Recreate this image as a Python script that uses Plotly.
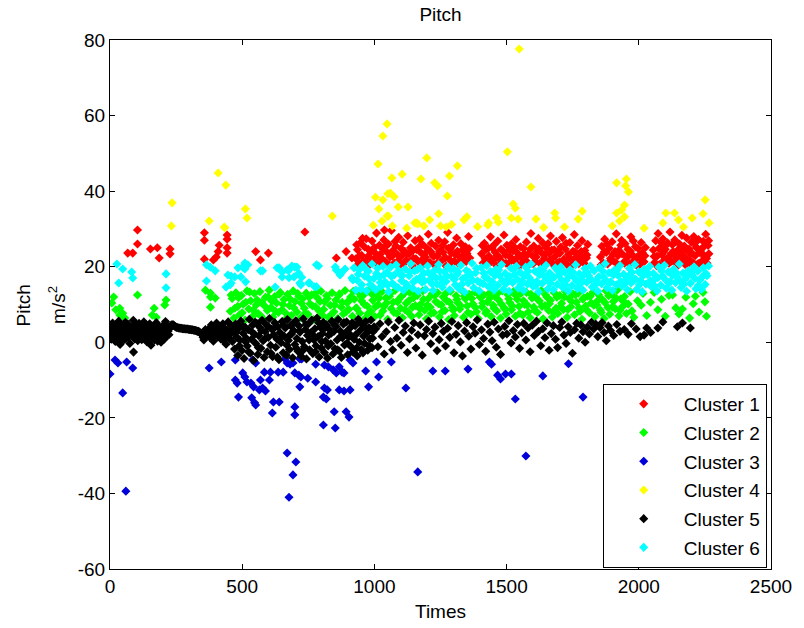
import plotly.graph_objects as go

# ---------------- data ----------------
cluster_names = ["Cluster 1", "Cluster 2", "Cluster 3", "Cluster 4", "Cluster 5", "Cluster 6"]
cluster_colors = ["#FF0000", "#00FF00", "#0000D8", "#FFFF00", "#000000", "#00FFFF"]

x_ticks = [0, 500, 1000, 1500, 2000, 2500]
y_ticks = [-60, -40, -20, 0, 20, 40, 60, 80]
y_tick_labels = ["-60", "-40", "-20", "0", "20", "40", "60", "80"]

cluster1_points = [
    (67, 23.6), (86, 23.6), (104, 29.7), (104, 26.0), (153, 24.7), (179, 25.0), (186, 22.3), (227, 24.7), (227, 23.4),
    (357, 29.0), (357, 27.0), (357, 22.0), (391, 21.8), (402, 22.6), (409, 24.0), (413, 25.7), (443, 28.4), (443, 27.3),
    (443, 25.0), (443, 23.6), (551, 24.0), (569, 21.8), (599, 23.6), (737, 29.2), (856, 22.3), (893, 24.0), (915, 22.3),
    (930, 22.1), (936, 24.5), (941, 20.8), (947, 26.3), (952, 23.0), (958, 21.5), (963, 25.2), (969, 27.4), (975, 22.7),
    (980, 20.4), (986, 24.0), (991, 26.8), (997, 21.9), (1003, 23.6), (1008, 28.9), (1014, 22.4), (1019, 25.7), (1025, 20.9),
    (1031, 24.8), (1036, 27.1), (1038, 29.7), (1042, 21.3), (1047, 23.9), (1053, 26.0), (1059, 22.6), (1064, 29.6), (1070, 24.3),
    (1075, 21.0), (1081, 25.5), (1087, 23.2), (1092, 27.8), (1098, 20.6), (1103, 22.9), (1109, 26.5), (1115, 24.1), (1120, 21.7),
    (1126, 28.2), (1131, 23.4), (1137, 25.0), (1143, 20.3), (1148, 22.2), (1154, 26.9), (1159, 24.6), (1165, 21.4), (1171, 27.3),
    (1176, 23.7), (1182, 25.9), (1187, 20.7), (1193, 22.5), (1199, 24.9), (1204, 28.6), (1210, 21.2), (1215, 26.2), (1221, 23.1),
    (1227, 20.5), (1232, 25.4), (1238, 22.8), (1243, 27.0), (1249, 24.2), (1255, 21.6), (1260, 23.8), (1266, 26.6), (1271, 20.2),
    (1277, 29.1), (1283, 22.0), (1288, 24.7), (1294, 21.1), (1299, 25.8), (1305, 23.3), (1311, 27.6), (1316, 20.9), (1322, 22.6),
    (1327, 26.1), (1333, 24.4), (1339, 21.8), (1344, 25.3), (1350, 23.5), (1356, 28.0), (1361, 22.3),
    (933, 25.8), (944, 22.9), (955, 27.5), (966, 21.2), (977, 24.6), (989, 22.0), (1000, 25.1), (1011, 20.6), (1022, 23.3),
    (1033, 21.8), (1045, 25.6), (1056, 20.5), (1067, 22.8), (1078, 26.7), (1090, 21.6), (1101, 24.8), (1112, 20.9), (1123, 23.5),
    (1134, 21.3), (1146, 24.3), (1157, 22.1), (1168, 25.2), (1179, 21.7), (1190, 23.4), (1202, 21.1), (1213, 24.0), (1224, 22.7),
    (1235, 20.8), (1246, 23.9), (1258, 25.6), (1269, 22.4), (1280, 24.9), (1291, 23.6), (1302, 21.5), (1314, 24.1), (1325, 20.7),
    (1336, 23.0), (1347, 21.4), (1358, 24.8),
    (1405, 23.4), (1411, 21.0), (1416, 26.2), (1422, 24.5), (1428, 20.6), (1433, 22.8), (1439, 27.9), (1445, 25.1), (1450, 21.7),
    (1456, 23.9), (1462, 20.3), (1467, 26.8), (1473, 22.4), (1479, 24.6), (1484, 21.2), (1490, 28.4), (1496, 23.1), (1501, 25.7),
    (1507, 20.8), (1513, 22.6), (1518, 26.0), (1524, 24.2), (1530, 21.5), (1535, 27.2), (1541, 23.6), (1547, 20.4), (1552, 25.3),
    (1558, 22.1), (1564, 24.8), (1569, 21.9), (1575, 26.5), (1581, 23.3), (1586, 20.7), (1592, 28.8), (1598, 22.9), (1603, 25.5),
    (1609, 21.4), (1615, 24.0), (1620, 27.5), (1626, 20.9), (1632, 23.7), (1637, 26.3), (1643, 22.2), (1649, 25.0), (1654, 21.1),
    (1660, 23.5), (1666, 28.1), (1671, 24.4), (1677, 20.5), (1683, 22.7), (1688, 26.7), (1694, 23.8), (1700, 21.3), (1705, 25.2),
    (1711, 27.7), (1717, 22.0), (1722, 24.7), (1728, 20.6), (1734, 23.2), (1739, 26.4), (1745, 21.8), (1751, 24.1), (1756, 28.5),
    (1762, 22.5), (1768, 25.6), (1773, 20.8), (1779, 23.0), (1785, 26.9), (1790, 21.6), (1796, 24.3), (1802, 22.3), (1807, 25.9),
    (1408, 25.6), (1419, 22.1), (1431, 24.9), (1442, 21.3), (1453, 25.8), (1464, 23.0), (1476, 21.8), (1487, 24.1), (1498, 20.9),
    (1510, 24.4), (1521, 22.0), (1532, 25.0), (1544, 22.7), (1555, 20.6), (1566, 23.4), (1578, 21.1), (1589, 24.6), (1600, 20.8),
    (1612, 22.6), (1623, 24.8), (1634, 21.2), (1646, 23.3), (1657, 26.1), (1668, 21.9), (1680, 24.5), (1691, 21.0), (1702, 23.6),
    (1714, 20.7), (1725, 26.2), (1736, 22.4), (1748, 20.5), (1759, 23.9), (1770, 22.2), (1782, 24.0), (1793, 20.9), (1804, 23.1),
    (1855, 22.6), (1860, 25.4), (1866, 21.0), (1871, 27.3), (1877, 23.8), (1882, 20.7), (1888, 24.9), (1893, 22.2), (1899, 26.6),
    (1904, 21.5), (1910, 24.0), (1915, 28.7), (1921, 22.9), (1926, 20.4), (1932, 25.7), (1937, 23.4), (1943, 21.2), (1948, 26.1),
    (1954, 22.7), (1959, 24.6), (1965, 20.8), (1970, 27.9), (1976, 23.1), (1981, 21.6), (1987, 25.3), (1992, 22.4), (1998, 24.8),
    (2003, 20.6), (2009, 26.4), (2014, 23.6), (2020, 21.3), (2025, 25.1),
    (1858, 20.5), (1869, 23.9), (1880, 26.0), (1891, 21.4), (1902, 23.2), (1913, 21.1), (1924, 24.3), (1935, 27.0), (1946, 20.9),
    (1957, 22.5), (1968, 24.1), (1979, 26.8), (1990, 20.5), (2001, 23.0), (2012, 21.8), (2023, 22.9),
    (2055, 24.4), (2060, 21.1), (2064, 26.9), (2069, 22.8), (2073, 28.8), (2078, 20.6), (2082, 25.0), (2087, 23.2), (2091, 27.4),
    (2096, 21.7), (2100, 24.6), (2105, 22.1), (2109, 26.3), (2114, 20.9), (2118, 29.2), (2123, 23.5), (2127, 25.8), (2132, 21.4),
    (2136, 27.1), (2141, 22.6), (2145, 24.2), (2150, 20.5), (2154, 26.0), (2159, 23.0), (2163, 28.3), (2168, 21.8), (2172, 25.5),
    (2177, 22.3), (2181, 27.6), (2186, 20.8), (2190, 24.7), (2195, 23.3), (2199, 26.5), (2204, 21.2), (2208, 28.0), (2213, 22.9),
    (2217, 25.2), (2222, 20.7), (2226, 27.2), (2231, 23.7), (2235, 24.5), (2240, 21.5), (2244, 26.7), (2249, 22.5), (2253, 28.6),
    (2258, 20.9), (2262, 25.6), (2265, 23.4),
    (2058, 22.7), (2067, 20.3), (2076, 24.8), (2085, 26.4), (2094, 23.9), (2103, 25.7), (2112, 22.4), (2121, 21.3), (2130, 24.0),
    (2139, 26.6), (2148, 21.9), (2157, 25.1), (2166, 23.8), (2175, 20.6), (2184, 24.3), (2193, 21.6), (2202, 23.5), (2211, 26.2),
    (2220, 24.9), (2229, 21.0), (2238, 23.6), (2247, 25.4), (2256, 22.2), (2264, 26.9),
]

cluster2_points = [
    (7, 10.4), (14, 12.0), (22, 8.6), (37, 9.0), (37, 7.2), (48, 7.7), (56, 6.4), (104, 12.5), (160, 7.2), (167, 9.0),
    (175, 6.6), (212, 11.2), (207, 9.9), (361, 13.8), (380, 13.0), (380, 12.0), (398, 11.7), (380, 9.3),
    (455, 8.2), (462, 11.6), (469, 6.4), (476, 13.1), (483, 9.5), (490, 7.3), (497, 12.4), (504, 10.1), (511, 5.9), (518, 13.6),
    (525, 8.8), (532, 11.0), (539, 6.8), (546, 12.9), (553, 9.9), (560, 7.6), (567, 13.4), (574, 10.6), (581, 6.1), (588, 11.9),
    (595, 8.4), (602, 13.8), (609, 9.2), (616, 6.7), (623, 12.1), (630, 10.4), (637, 7.9), (644, 13.2), (651, 8.6), (658, 11.3),
    (665, 6.2), (672, 12.7), (679, 9.7), (686, 7.1), (693, 13.6), (700, 10.8), (707, 8.0), (714, 12.2), (721, 6.5), (728, 11.5),
    (735, 9.0), (742, 13.0), (749, 7.4), (756, 10.2), (763, 12.6), (770, 6.0), (777, 9.4), (784, 11.8), (791, 8.3), (798, 13.5),
    (805, 7.0), (812, 10.7), (819, 12.3), (826, 6.6), (833, 9.8), (840, 13.1), (847, 8.1), (854, 11.2), (861, 6.3), (868, 12.8),
    (875, 9.3), (882, 7.5), (889, 13.7), (896, 10.5), (903, 8.7), (910, 12.0), (917, 6.9), (924, 11.4), (931, 9.1), (938, 13.3),
    (945, 7.7), (952, 10.9), (959, 12.5), (966, 6.4), (973, 9.6), (980, 13.9), (987, 8.2), (994, 11.1), (1001, 6.8), (1008, 12.6),
    (1015, 10.0), (1022, 7.2), (1029, 13.4), (1036, 9.5), (1043, 11.7), (1050, 6.1), (1057, 12.2), (1064, 8.9), (1071, 10.6),
    (1078, 13.7), (1085, 7.6), (1092, 11.3), (1099, 9.0), (1106, 6.5), (1113, 12.9), (1120, 10.3), (1127, 8.0), (1134, 13.2),
    (1141, 6.9), (1148, 11.8), (1155, 9.7), (1162, 12.4), (1169, 7.3), (1176, 10.1), (1183, 13.6), (1190, 8.5), (1197, 6.2),
    (1204, 11.6), (1211, 9.3), (1218, 12.8), (1225, 7.8), (1232, 10.8), (1239, 13.1), (1246, 6.7), (1253, 9.9), (1260, 12.0),
    (1267, 8.4), (1274, 11.0), (1281, 6.0), (1288, 13.5), (1295, 9.2), (1302, 7.1), (1309, 12.3), (1316, 10.4), (1323, 8.8),
    (1330, 13.8), (1337, 6.6), (1344, 11.5), (1351, 9.6), (1358, 12.7), (1365, 7.4), (1372, 10.2), (1379, 13.3), (1386, 8.1),
    (1393, 6.3), (1400, 11.9), (1407, 9.4), (1414, 12.5), (1421, 7.7), (1428, 10.7), (1435, 13.0), (1442, 6.8), (1449, 9.8),
    (1456, 12.1), (1463, 8.3), (1470, 11.2), (1477, 6.4), (1484, 13.6), (1491, 9.1), (1498, 7.5), (1505, 12.6), (1512, 10.5),
    (1519, 8.6), (1526, 13.4), (1533, 6.9), (1540, 11.4), (1547, 9.5), (1554, 12.9), (1561, 7.2), (1568, 10.0), (1575, 13.2),
    (1582, 8.0), (1589, 6.5), (1596, 11.7), (1603, 9.3), (1610, 12.3), (1617, 7.9), (1624, 10.9), (1631, 13.7), (1638, 6.2),
    (1645, 9.7), (1652, 12.0), (1659, 8.4), (1666, 11.1), (1673, 6.7), (1680, 13.1), (1687, 9.0), (1694, 7.6), (1701, 12.4),
    (1708, 10.3), (1715, 8.7), (1722, 13.5), (1729, 6.6), (1736, 11.6), (1743, 9.4), (1750, 12.8), (1757, 7.3), (1764, 10.6),
    (1771, 13.0), (1778, 8.2), (1785, 6.1), (1792, 11.8), (1799, 9.6), (1806, 12.2), (1813, 7.8), (1820, 10.4), (1827, 13.3),
    (1834, 6.8), (1841, 9.9), (1848, 12.6), (1855, 8.5), (1862, 11.3), (1869, 6.3), (1876, 13.6), (1883, 9.2), (1890, 7.4),
    (1897, 12.7), (1904, 10.8), (1911, 8.9), (1918, 13.8), (1925, 7.0), (1932, 11.5), (1939, 9.5), (1946, 12.1), (1953, 7.6),
    (1960, 10.1), (1967, 13.4), (1974, 8.3), (1981, 6.6), (1995, 11.0), (2009, 9.8), (2016, 12.9), (2030, 7.1), (2044, 10.6),
    (2058, 13.2), (2072, 8.6), (2086, 11.4), (2100, 6.9), (2114, 12.4), (2128, 12.5), (2140, 9.1), (2152, 7.5), (2165, 8.8),
    (2178, 11.9), (2192, 6.4), (2206, 10.2), (2214, 12.2), (2228, 8.0), (2243, 13.2), (2250, 10.7), (2256, 6.9),
    (458, 12.5), (472, 9.0), (486, 11.8), (500, 7.8), (514, 10.6), (528, 13.3), (542, 8.5), (556, 11.2), (570, 7.0), (584, 9.7),
    (598, 12.0), (612, 10.9), (626, 8.2), (640, 12.7), (654, 10.0), (668, 7.5), (682, 11.4), (696, 9.1), (710, 12.9), (724, 10.3),
    (738, 7.7), (752, 11.9), (766, 9.6), (780, 13.2), (794, 10.8), (808, 8.7), (822, 11.6), (836, 7.3), (850, 9.9), (864, 12.4),
    (878, 10.6), (892, 8.0), (906, 11.1), (920, 13.5), (934, 8.9), (948, 12.2), (962, 10.0), (976, 7.6), (990, 12.8), (1004, 9.4),
    (1018, 11.7), (1032, 8.3), (1046, 10.4), (1060, 12.9), (1074, 7.9), (1088, 10.7), (1102, 12.1), (1116, 8.6), (1130, 11.0),
    (1144, 9.3), (1158, 12.7), (1172, 8.9), (1186, 11.4), (1200, 9.8), (1214, 7.6), (1228, 12.4), (1242, 10.2), (1256, 8.1),
    (1270, 12.9), (1284, 10.6), (1298, 8.5), (1312, 11.3), (1326, 9.7), (1340, 12.2), (1354, 7.9), (1368, 11.6), (1382, 9.2),
    (1396, 12.6), (1410, 10.4), (1424, 8.2), (1438, 11.8), (1452, 9.0), (1466, 12.9), (1480, 10.1), (1494, 8.8), (1508, 11.5),
    (1522, 9.6), (1536, 12.3), (1550, 7.7), (1564, 11.0), (1578, 9.9), (1592, 12.7), (1606, 8.4), (1620, 11.2), (1634, 9.5),
    (1648, 12.5), (1662, 10.2), (1676, 8.0), (1690, 11.9), (1704, 9.4), (1718, 12.0), (1732, 8.7), (1746, 10.8), (1760, 12.6),
    (1774, 9.1), (1788, 11.4), (1802, 8.6), (1816, 12.1), (1830, 9.8), (1844, 11.0), (1858, 7.9), (1872, 10.5), (1886, 12.3),
    (1900, 9.3), (1914, 11.7), (1928, 8.4), (1942, 10.9),
]

cluster3_points = [
    (0, -8.4), (19, -4.7), (30, -5.5), (48, -13.4), (63, -5.2), (86, -6.8), (60, -39.4), (375, -6.8), (421, -5.2), (474, -4.7),
    (474, -10.0), (481, -10.8), (502, -8.1), (510, -9.2), (518, -10.5), (486, -14.5), (533, -10.8), (543, -11.8), (536, -14.7),
    (547, -16.0), (551, -16.6), (569, -10.0), (577, -12.1), (565, -12.6), (539, -4.7), (551, -5.5), (584, -7.9), (603, -10.0),
    (607, -7.9), (636, -7.9), (655, -7.9), (618, -15.8), (640, -15.8), (614, -18.7), (588, -12.9), (662, -4.4), (670, -5.5),
    (681, -5.8), (692, -5.5), (718, -4.4), (725, -4.4), (699, -8.1), (714, -8.7), (722, -9.2), (718, -11.8), (699, -17.1),
    (699, -19.2), (748, -9.5), (778, -5.8), (778, -10.5), (811, -6.0), (826, -6.5), (811, -12.1), (822, -12.6), (807, -14.5),
    (818, -15.0), (844, -7.3), (856, -8.1), (867, -6.5), (878, -7.9), (885, -8.1), (848, -18.4), (867, -12.6), (885, -12.9),
    (908, -12.6), (893, -18.4), (904, -19.8), (908, -4.7), (919, -5.5), (807, -21.9), (852, -22.7), (967, -7.6), (978, -11.8),
    (1008, -5.2), (1016, -9.2), (670, -29.3), (703, -31.7), (692, -35.1), (677, -41.0), (1064, -5.2),
    (1119, -12.1), (1164, -34.3), (1221, -7.6), (1268, -7.6), (1354, -7.1), (1435, -5.2), (1443, -5.8), (1466, -8.7),
    (1477, -9.7), (1496, -8.4), (1518, -8.4), (1533, -15.0), (1573, -30.1), (1637, -8.9), (1734, -5.7), (1789, -14.5),
]

cluster4_points = [
    (235, 36.9), (232, 30.8), (375, 32.1), (409, 44.8), (438, 41.6), (434, 30.3), (432, 30.5), (512, 35.3), (518, 32.9),
    (841, 33.4), (1014, 47.2), (1032, 54.6), (1048, 57.8), (1066, 43.5), (1004, 38.4), (1017, 35.3), (1032, 37.7), (1051, 39.3),
    (996, 31.0), (1029, 32.1), (1048, 33.4), (1198, 48.8), (1314, 46.7), (1105, 44.5), (1176, 43.2), (1284, 44.0), (1228, 42.2),
    (1239, 41.4), (1276, 38.7), (1060, 39.5), (1075, 38.5), (1090, 35.8), (1127, 35.8), (1053, 33.4), (1243, 34.0), (1068, 30.8),
    (1161, 31.6), (1187, 30.8), (1209, 32.4), (1350, 33.2), (1339, 32.4), (1250, 30.8), (1272, 30.5), (1429, 31.0),
    (1548, 77.6), (1503, 50.4), (1592, 41.1), (1525, 36.6), (1533, 35.5), (1916, 42.2), (1953, 43.2), (1950, 41.4), (1961, 39.8),
    (1946, 36.3), (1935, 35.0), (1916, 34.2), (1946, 33.2), (1927, 32.1), (2251, 37.7), (2102, 34.2), (2135, 34.2), (2150, 32.4),
    (2169, 30.5), (2202, 32.9), (2243, 34.0), (2266, 31.6), (2091, 31.6), (1682, 34.2), (1685, 32.9), (1719, 30.5), (1611, 32.6),
    (1771, 32.6), (1786, 34.7), (1462, 32.9), (1469, 31.8), (1432, 31.6), (1518, 32.9), (1544, 32.6), (1153, 31.6), (1164, 31.3),
    (1122, 30.2), (1292, 31.2), (1390, 30.6), (1640, 30.4), (1900, 30.8), (2020, 30.2),
]

cluster5_points = [
    (0, 2.1), (3, 4.3), (5, 0.8), (8, 3.2), (10, 5.1), (13, 1.5), (15, 3.8), (18, 2.6), (20, 0.2), (23, 4.7), (25, 2.9),
    (28, 1.2), (30, 3.5), (33, 5.6), (35, 2.0), (38, -0.6), (40, 3.1), (43, 4.4), (45, 1.7), (48, 2.8), (50, 0.5), (53, 4.0),
    (55, 2.3), (58, 5.3), (60, 1.0), (63, 3.4), (65, 2.5), (68, 4.8), (70, 1.4), (73, 3.0), (75, -0.3), (78, 2.2), (80, 4.1),
    (83, 1.9), (85, 3.6), (88, 5.8), (89, -2.6), (90, 2.7), (93, 0.9), (95, 3.9), (98, 1.6), (100, 4.5), (103, 2.4), (105, 0.4),
    (108, 3.3), (110, 5.0), (113, 1.8), (115, 2.9), (118, 4.2), (120, 0.7), (123, 3.7), (125, 2.0), (128, 5.4), (130, 1.3),
    (133, 3.1), (135, 2.6), (138, 4.6), (140, 0.1), (143, 2.8), (145, 3.9), (148, 1.5), (150, 4.9), (153, 2.3), (155, -0.8),
    (158, 3.5), (160, 1.1), (163, 4.3), (165, 2.5), (168, 0.6), (170, 3.8), (173, 1.9), (175, 5.2), (178, 2.7), (180, 0.3),
    (183, 3.4), (185, 1.7), (188, 4.0), (190, 2.2), (193, 0.0), (195, 3.6), (198, 1.4), (200, 4.4), (203, 2.9), (205, 0.8),
    (208, 3.2), (210, 5.5), (213, 1.6), (215, 2.4), (218, 4.1), (220, 3.0), (223, 2.0), (226, 3.7),
    (229, 4.2), (232, 4.6), (235, 4.4), (238, 4.7), (241, 4.5), (244, 4.3), (247, 4.1), (250, 4.0), (253, 3.9), (256, 3.9),
    (259, 3.8), (262, 3.8), (265, 3.7), (268, 3.7), (271, 3.7), (274, 3.6), (277, 3.6), (280, 3.6), (283, 3.6), (286, 3.5),
    (289, 3.5), (292, 3.5), (295, 3.5), (298, 3.4), (301, 3.4), (304, 3.4), (307, 3.3), (310, 3.3), (313, 3.3), (316, 3.2),
    (319, 3.2), (322, 3.1), (325, 3.1), (328, 3.0), (331, 2.9), (334, 2.9), (337, 2.8), (340, 2.6), (343, 2.4), (346, 2.2),
    (349, 1.9), (352, 1.3), (355, 0.6), (358, 2.6), (361, 3.4), (364, 2.8), (367, 1.8), (370, 3.1),
    (375, 3.4), (379, 1.2), (383, 4.6), (387, 2.5), (391, 0.3), (395, 3.8), (399, 2.0), (403, 5.1), (407, 1.5), (411, 3.0),
    (415, 4.2), (419, 0.9), (423, 2.7), (427, 4.9), (431, 1.8), (435, 3.6), (439, -0.5), (443, 2.3), (447, 5.4), (451, 1.0),
    (455, 3.2), (459, 4.4), (463, 0.2), (467, 2.9), (471, -1.8), (475, 4.8), (479, 1.4), (483, -3.5), (487, 3.7), (491, 0.6),
    (495, 5.6), (499, -2.2), (503, 2.4), (507, -4.3), (511, 4.0), (515, 1.1), (519, -1.0), (523, 3.3), (527, 6.1), (531, -2.9),
    (535, 0.8), (539, 4.5), (543, -4.8), (547, 2.1), (551, -0.3), (555, 5.0), (559, -3.2), (563, 1.7), (567, 3.9), (571, -1.6),
    (575, 5.8), (579, 0.4), (583, -4.0), (587, 2.8), (591, 4.7), (595, -2.5), (599, 1.3), (603, 6.3), (607, -0.8), (611, 3.5),
    (615, -3.8), (619, 2.0), (623, 5.2), (627, -1.3), (631, 0.9), (635, 4.1), (639, -4.6), (643, 2.6), (647, -0.1), (651, 5.5),
    (655, -2.8), (659, 1.6), (663, 3.8), (667, -3.4), (671, 6.0), (675, 0.5), (679, -1.9), (683, 4.4), (687, 2.2), (691, -4.1),
    (695, 3.1), (699, -0.6), (703, 5.7), (707, 1.0), (711, -2.4), (715, 4.3), (719, 2.7), (723, -3.7), (727, 0.2), (731, 6.2),
    (735, -1.2), (739, 3.4), (743, -4.4), (747, 1.8), (751, 4.9), (755, -2.0), (759, 2.5), (763, 5.9), (767, -3.0), (771, 0.7),
    (775, 3.6), (779, -0.9), (783, 6.4), (787, 1.5), (791, -3.9), (795, 4.0), (799, -1.5), (803, 2.3), (807, 5.3), (811, -2.7),
    (815, 0.3), (819, 4.6), (823, -4.2), (827, 1.9), (831, 3.3), (835, -0.4), (839, 5.6), (843, -3.1), (847, 2.9), (851, -1.7),
    (855, 4.2), (859, 0.6), (863, 6.0), (867, -2.3), (871, 3.0), (875, -4.0), (879, 1.2), (883, 4.8), (887, -0.7), (891, 2.6),
    (895, 5.4), (899, -3.3), (903, 1.4), (907, 3.7), (911, -1.1), (915, 5.1), (919, -2.6), (923, 0.8), (927, 4.4), (931, 2.1),
    (935, -3.6), (939, 6.1), (943, 0.0), (947, 3.2), (951, -1.9), (955, 4.7), (959, 1.6), (963, -0.3), (967, 5.5), (971, 2.4),
    (975, -2.1), (979, 3.9), (983, 0.9), (987, 5.9), (991, -1.4), (995, 2.8), (999, 4.1),
    (381, 3.9), (393, 1.8), (405, 3.1), (417, 2.2), (429, 0.4), (441, 3.3), (453, 2.0), (465, 4.1), (477, 2.6), (489, -0.9),
    (501, 4.3), (513, 0.1), (525, -2.6), (537, 2.7), (549, 5.3), (561, -1.4), (573, 3.1), (585, 0.9), (597, 4.2), (609, -2.9),
    (621, 3.7), (633, -3.9), (645, 1.2), (657, 4.6), (669, -0.8), (681, 2.0), (693, 5.0), (705, -1.6), (717, 3.0), (729, -2.2),
    (741, 4.7), (753, 0.6), (765, 2.1), (777, -2.5), (789, 5.2), (801, 0.2), (813, 3.8), (825, -1.0), (837, 2.4), (849, 4.5),
    (861, -2.0), (873, 1.6), (885, 5.2), (897, -0.2), (909, 2.0), (921, 4.9), (933, -1.5), (945, 5.3), (957, -2.8), (969, 3.5),
    (981, -0.9), (993, 1.1),
    (1005, 3.6), (1013, -1.2), (1021, 4.9), (1029, 1.5), (1037, -3.1), (1045, 2.8), (1053, 5.4), (1061, 0.2), (1069, -2.0),
    (1077, 3.9), (1085, 1.1), (1093, 5.8), (1101, -0.8), (1109, 2.6), (1117, 4.3), (1125, -2.7), (1133, 0.9), (1141, 3.2),
    (1149, 5.1), (1157, -1.5), (1165, 2.0), (1173, 4.6), (1181, -3.4), (1189, 1.7), (1197, 3.4), (1205, 5.6), (1213, -0.4),
    (1221, 2.3), (1229, 4.0), (1237, -2.2), (1245, 0.7), (1253, 5.0), (1261, 2.9), (1269, -1.0), (1277, 3.7), (1285, 1.3),
    (1293, 5.5), (1301, -2.8), (1309, 2.1), (1317, 4.4), (1325, 0.1), (1333, -3.6), (1341, 3.0), (1349, 5.2), (1357, 1.6),
    (1365, -1.8), (1373, 4.1), (1381, 2.4), (1389, 5.9), (1397, -0.6), (1405, 3.3), (1413, 1.0), (1421, -2.4), (1429, 4.8),
    (1437, 2.7), (1445, 0.4), (1453, 5.3), (1461, -1.3), (1469, 3.5), (1477, -3.2), (1485, 1.9), (1493, 4.2), (1501, 2.2),
    (1509, 5.7), (1517, -0.2), (1525, 3.1), (1533, 1.4), (1541, 4.7), (1549, -1.6), (1557, 2.5), (1565, 5.0), (1573, 0.6),
    (1581, 3.8), (1589, -2.5), (1597, 4.5), (1605, 1.8), (1613, 5.6), (1621, 2.9), (1629, -0.9), (1637, 3.6), (1645, 1.2),
    (1653, 5.1), (1661, -2.1), (1669, 2.3), (1677, 4.4), (1685, 0.8), (1693, -1.4), (1701, 3.9), (1709, 5.4), (1717, 1.9),
    (1725, -0.3), (1733, 4.1), (1741, 2.6), (1749, -2.9), (1757, 3.3), (1765, 5.0), (1773, 1.1), (1781, 4.6), (1789, 2.8),
    (1797, 0.0), (1805, 4.0), (1813, 2.2), (1821, 5.3), (1829, 3.5), (1837, 4.8), (1845, 1.5), (1853, 3.9), (1861, 5.2),
    (1869, 2.6), (1877, 0.4), (1885, 4.3), (1893, 3.1), (1905, 1.8), (1917, 4.7), (1929, 2.9), (1945, 3.4), (1960, 2.1),
    (1972, 4.9), (1990, 3.5), (2005, 1.5), (2020, 1.9), (2030, 3.8), (2045, 2.6), (2072, 3.8), (2091, 5.4), (2146, 4.1),
    (2165, 5.1), (2195, 3.8),
]

cluster6_points = [
    (26, 20.7), (48, 19.4), (33, 15.7), (82, 18.6), (86, 17.0), (212, 18.1), (212, 14.4), (365, 20.5), (379, 19.9), (398, 18.9),
    (365, 16.2), (446, 17.8), (458, 17.5), (439, 14.6), (454, 15.2), (484, 19.7), (502, 19.9), (510, 21.0), (513, 16.0),
    (577, 18.9), (625, 14.6), (640, 19.7), (651, 18.6), (670, 19.2), (677, 17.1), (696, 17.3), (699, 19.9), (714, 18.3),
    (722, 15.2), (725, 17.2), (755, 15.7), (774, 14.7), (781, 20.5), (856, 19.1), (874, 18.3), (919, 16.5), (923, 19.7),
    (458, 15.7), (472, 17.3), (495, 17.3), (510, 19.4), (521, 20.5), (569, 18.9), (632, 19.7), (651, 17.3), (677, 19.1),
    (688, 20.2), (707, 19.9), (718, 15.7), (751, 15.7), (789, 20.2), (781, 14.7), (852, 19.9), (870, 17.8), (889, 19.4),
    (915, 17.0), (930, 13.8),
    (935, 16.4), (942, 19.2), (949, 14.1), (956, 20.3), (963, 17.5), (970, 13.6), (977, 18.8), (984, 15.3), (991, 20.7),
    (998, 16.9), (1005, 13.9), (1012, 19.6), (1019, 17.2), (1026, 14.8), (1033, 20.1), (1040, 16.0), (1047, 18.5), (1054, 13.4),
    (1061, 19.9), (1068, 15.6), (1075, 17.8), (1082, 20.5), (1089, 14.5), (1096, 18.1), (1103, 16.3), (1110, 13.8), (1117, 19.4),
    (1124, 15.0), (1131, 17.6), (1138, 20.8), (1145, 14.3), (1152, 18.9), (1159, 16.7), (1166, 13.5), (1173, 19.7), (1180, 15.9),
    (1187, 18.3), (1194, 14.0), (1201, 20.2), (1208, 16.5), (1215, 17.9), (1222, 13.7), (1229, 19.1), (1236, 15.4), (1243, 20.6),
    (1250, 17.0), (1257, 14.6), (1264, 18.6), (1271, 16.1), (1278, 20.0), (1285, 13.9), (1292, 17.4), (1299, 19.5), (1306, 15.2),
    (1313, 18.0), (1320, 14.2), (1327, 20.4), (1334, 16.8), (1341, 13.3), (1348, 19.0), (1355, 15.7), (1362, 17.7), (1369, 20.9),
    (1376, 14.4), (1383, 18.4), (1390, 16.2), (1397, 13.6), (1404, 19.8), (1411, 15.5), (1418, 17.3), (1425, 20.3), (1432, 14.7),
    (1439, 18.7), (1446, 16.0), (1453, 13.8), (1460, 19.3), (1467, 15.1), (1474, 17.6), (1481, 20.6), (1488, 14.0), (1495, 18.2),
    (1502, 16.6), (1509, 13.5), (1516, 19.6), (1523, 15.8), (1530, 17.9), (1537, 20.1), (1544, 14.3), (1551, 18.5), (1558, 16.3),
    (1565, 13.7), (1572, 19.9), (1579, 15.4), (1586, 17.1), (1593, 20.7), (1600, 14.8), (1607, 18.8), (1614, 16.1), (1621, 13.4),
    (1628, 19.4), (1635, 15.6), (1642, 17.5), (1649, 20.4), (1656, 14.1), (1663, 18.3), (1670, 16.9), (1677, 13.9), (1684, 19.7),
    (1691, 15.3), (1698, 17.8), (1705, 20.0), (1712, 14.5), (1719, 18.6), (1726, 16.4), (1733, 13.6), (1740, 19.2), (1747, 15.0),
    (1754, 17.2), (1761, 20.5), (1768, 14.2), (1775, 18.1), (1782, 16.7), (1789, 13.8), (1796, 19.5), (1803, 15.9), (1810, 17.6),
    (1817, 20.2), (1824, 14.6), (1831, 18.9), (1838, 16.2), (1845, 13.5), (1852, 19.8), (1859, 15.5), (1866, 17.4), (1873, 20.8),
    (1880, 14.4), (1887, 18.4), (1894, 16.0), (1901, 13.7), (1908, 19.1), (1915, 15.2), (1922, 17.7), (1929, 20.3), (1936, 14.9),
    (1943, 18.0), (1950, 16.5), (1957, 13.9), (1964, 19.6), (1971, 15.7), (1978, 17.0), (1985, 20.6), (1992, 14.0), (1999, 18.7),
    (2006, 16.3), (2013, 13.4), (2020, 19.3), (2027, 15.4), (2034, 17.9), (2041, 20.1), (2048, 14.7), (2055, 18.2), (2062, 16.8),
    (2069, 13.6), (2076, 19.9), (2083, 15.1), (2090, 17.5), (2097, 20.4), (2104, 14.3), (2111, 18.6), (2118, 16.1), (2125, 13.8),
    (2132, 19.4), (2139, 15.8), (2146, 17.3), (2153, 20.7), (2160, 14.5), (2167, 18.3), (2174, 16.6), (2181, 13.5), (2188, 19.0),
    (2195, 15.6), (2202, 17.8), (2209, 20.0), (2216, 14.2), (2223, 18.8), (2230, 16.4), (2237, 14.0), (2244, 19.7), (2251, 15.3),
    (2258, 17.6), (2264, 20.2),
    (939, 18.0), (952, 15.2), (966, 19.5), (980, 16.8), (994, 14.6), (1008, 18.2), (1022, 15.8), (1036, 17.9), (1050, 15.1),
    (1064, 17.4), (1078, 14.9), (1092, 19.0), (1106, 17.7), (1120, 15.4), (1134, 18.6), (1148, 16.0), (1162, 19.2), (1176, 17.3),
    (1190, 16.2), (1204, 18.4), (1218, 15.5), (1232, 17.1), (1246, 18.9), (1260, 15.9), (1274, 17.5), (1288, 19.3), (1302, 16.6),
    (1316, 18.7), (1330, 15.3), (1344, 17.2), (1358, 18.5), (1372, 16.4), (1386, 19.6), (1400, 15.8), (1414, 18.3), (1428, 16.9),
    (1442, 15.0), (1456, 17.7), (1470, 19.1), (1484, 16.3), (1498, 15.5), (1512, 17.4), (1526, 19.2), (1540, 16.7), (1554, 15.3),
    (1568, 17.6), (1582, 18.8), (1596, 16.1), (1610, 15.0), (1624, 17.8), (1638, 19.0), (1652, 16.8), (1666, 15.6), (1680, 17.2),
    (1694, 18.9), (1708, 16.5), (1722, 15.2), (1736, 17.5), (1750, 18.6), (1764, 16.2), (1778, 15.4), (1792, 17.9), (1806, 18.4),
    (1820, 16.6), (1834, 15.1), (1848, 17.3), (1862, 18.9), (1876, 16.4), (1890, 15.7), (1904, 17.8), (1918, 19.1), (1932, 16.1),
    (1946, 15.5), (1960, 17.4), (1974, 18.5), (1988, 16.7), (2002, 15.2), (2016, 17.6), (2030, 18.7), (2044, 16.3), (2058, 15.0),
    (2072, 17.1), (2086, 18.9), (2100, 16.6), (2114, 15.6), (2128, 17.7), (2142, 18.4), (2156, 16.2), (2170, 15.3), (2184, 17.5),
    (2198, 18.6), (2212, 16.9), (2226, 15.1), (2240, 17.3), (2254, 18.2),
]

all_points = [cluster1_points, cluster2_points, cluster3_points, cluster4_points, cluster5_points, cluster6_points]

# ---------------- figure ----------------
FONT = "Liberation Sans, Arial, Helvetica, sans-serif"
fig = go.Figure()
for i, (name, color, pts) in enumerate(zip(cluster_names, cluster_colors, all_points)):
    fig.add_trace(go.Scatter(
        x=[p[0] for p in pts], y=[p[1] for p in pts],
        mode="markers", name=name, legendgroup=name,
        marker=dict(symbol="diamond", size=7, color=color, line=dict(width=0)),
    ))

axis_common = dict(
    showgrid=False, zeroline=False, showline=True, linecolor="black", linewidth=1,
    mirror="ticks", ticks="inside", ticklen=5, tickcolor="black", tickwidth=1,
    tickfont=dict(family=FONT, size=19, color="black"),
)
fig.update_xaxes(range=[0, 2500], tickvals=x_ticks, ticktext=[str(v) for v in x_ticks], **axis_common)
fig.update_yaxes(range=[-60, 80], tickvals=y_ticks, ticktext=y_tick_labels, **axis_common)

fig.update_layout(
    width=804, height=628,
    margin=dict(l=110, r=22, t=40, b=59),
    paper_bgcolor="white", plot_bgcolor="white",
    font=dict(family=FONT, size=19, color="black"),
    title=dict(text="Pitch", x=0.5, xref="paper", y=1 - 14 / 628, yref="container",
               xanchor="center", yanchor="middle", font=dict(family=FONT, size=19)),
    showlegend=True,
    legend=dict(x=0.7454, y=0.3497, xanchor="left", yanchor="top",
                bordercolor="black", borderwidth=1, bgcolor="white",
                font=dict(family=FONT, size=19), tracegroupgap=1, itemwidth=70),
    annotations=[
        dict(text="Times", xref="paper", yref="paper", x=0.5, y=-(611 - 569) / 529,
             xanchor="center", yanchor="middle", showarrow=False, font=dict(family=FONT, size=19)),
        dict(text="Pitch", xref="paper", yref="paper", x=-(110 - 22) / 672, y=(569 - 305) / 529,
             xanchor="center", yanchor="middle", textangle=-90, showarrow=False, font=dict(family=FONT, size=19)),
        dict(text="m/s<sup>2</sup>", xref="paper", yref="paper", x=-(110 - 56) / 672, y=(569 - 305) / 529,
             xanchor="center", yanchor="middle", textangle=-90, showarrow=False, font=dict(family=FONT, size=19)),
    ],
)

fig.write_html("out.html")
